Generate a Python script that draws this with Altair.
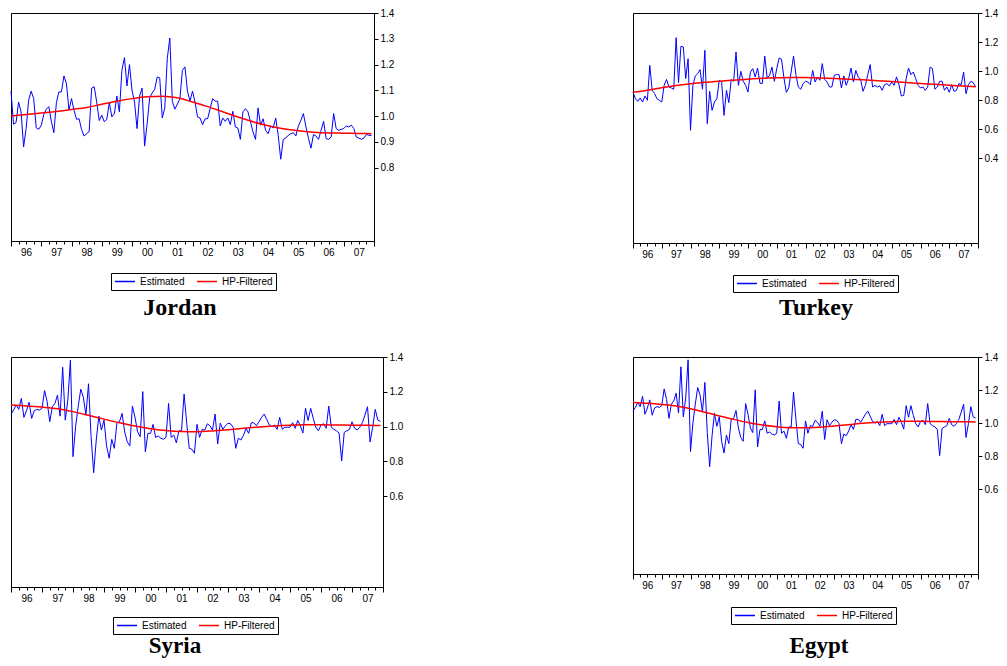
import altair as alt
import pandas as pd

# ---------------- data (monthly, Jan 1996 .. Dec 2007) ----------------
months = list(range(144))
hp_months = [0, 6, 12, 18, 24, 30, 36, 42, 48, 54, 60, 66, 72, 78, 84, 90,
             96, 102, 108, 114, 120, 126, 132, 138, 143]
x_quarters = [1996 + q / 4 for q in range(49)]

jordan_est = [
    1.097, 0.969, 0.975, 1.055, 1.016, 0.881, 0.952, 1.062, 1.097, 1.068,
    0.955, 0.949, 0.965, 1.006, 1.027, 1.037, 0.980, 0.936, 1.052, 1.094,
    1.094, 1.156, 1.126, 1.023, 1.068, 1.023, 0.988, 0.990, 0.948, 0.923,
    0.932, 0.940, 1.109, 1.114, 1.055, 0.983, 1.004, 0.978, 0.988, 1.052,
    0.997, 1.010, 1.078, 1.017, 1.178, 1.227, 1.117, 1.200, 1.101, 1.055,
    0.952, 1.078, 1.109, 0.884, 0.970, 1.071, 1.090, 1.104, 1.152, 1.148,
    0.993, 1.032, 1.224, 1.303, 1.058, 1.027, 1.047, 1.068, 1.178, 1.191,
    1.097, 1.058, 1.097, 1.055, 0.997, 0.993, 0.967, 0.990, 0.990, 1.029,
    1.068, 1.058, 1.058, 0.962, 0.993, 0.980, 0.993, 0.967, 1.019, 0.958,
    0.954, 0.910, 1.017, 1.029, 1.017, 0.978, 0.939, 0.910, 1.032, 0.965,
    0.990, 0.945, 0.932, 0.962, 0.954, 0.993, 0.926, 0.833, 0.910, 0.915,
    0.926, 0.932, 0.936, 0.923, 0.962, 0.984, 1.010, 0.958, 0.915, 0.876,
    0.929, 0.923, 0.910, 0.945, 0.980, 0.913, 0.910, 0.919, 1.010, 0.952,
    0.945, 0.949, 0.952, 0.962, 0.958, 0.965, 0.952, 0.919, 0.915, 0.910,
    0.915, 0.929, 0.926, 0.925]
jordan_hp = [1.001, 1.006, 1.012, 1.018, 1.026, 1.034, 1.046, 1.058, 1.068,
             1.075, 1.077, 1.071, 1.055, 1.037, 1.017, 0.997, 0.978, 0.963,
             0.951, 0.943, 0.938, 0.935, 0.934, 0.933, 0.932]

turkey_est = [
    0.855, 0.809, 0.791, 0.814, 0.786, 0.828, 0.798, 1.039, 0.867, 0.844,
    0.809, 0.798, 0.786, 0.901, 0.942, 0.890, 0.883, 0.874, 1.230, 0.919,
    1.170, 1.166, 0.948, 1.085, 0.591, 0.901, 0.966, 0.982, 1.009, 0.874,
    1.143, 0.637, 0.860, 0.729, 0.786, 0.809, 0.935, 0.924, 0.694, 0.867,
    0.782, 0.942, 0.929, 1.131, 0.901, 0.998, 0.929, 0.901, 0.855, 0.993,
    1.016, 0.959, 1.020, 0.915, 0.915, 1.103, 0.952, 0.970, 1.027, 0.929,
    1.016, 1.090, 1.081, 0.952, 0.853, 0.883, 0.993, 1.103, 0.975, 0.890,
    0.874, 0.913, 0.929, 0.924, 0.906, 1.004, 0.924, 0.959, 0.936, 1.051,
    0.942, 0.924, 0.890, 0.890, 0.970, 0.975, 0.975, 0.883, 0.966, 0.901,
    0.947, 1.020, 0.924, 1.004, 0.959, 0.942, 0.860, 0.901, 0.975, 1.044,
    0.890, 0.901, 0.890, 0.897, 0.867, 0.906, 0.913, 0.897, 0.924, 0.901,
    0.959, 0.906, 0.828, 0.832, 0.947, 1.020, 0.975, 0.993, 0.947, 0.901,
    0.883, 0.890, 0.867, 0.890, 1.027, 1.016, 0.874, 0.890, 0.929, 0.929,
    0.867, 0.890, 0.853, 0.906, 0.860, 0.867, 0.913, 0.906, 0.993, 0.844,
    0.906, 0.929, 0.920, 0.890]
turkey_hp = [0.853, 0.868, 0.885, 0.900, 0.912, 0.922, 0.930, 0.937, 0.944,
             0.950, 0.954, 0.956, 0.955, 0.952, 0.948, 0.944, 0.939, 0.933,
             0.927, 0.920, 0.914, 0.908, 0.902, 0.896, 0.891]

syria_est = [
    1.072, 1.095, 1.124, 1.099, 1.162, 1.053, 1.091, 1.140, 1.047, 1.091,
    1.099, 1.095, 1.105, 1.207, 1.143, 1.028, 1.114, 1.133, 1.181, 1.060,
    1.341, 1.037, 1.152, 1.383, 0.827, 0.999, 1.114, 1.215, 1.169, 1.066,
    1.246, 0.942, 0.735, 0.923, 1.060, 0.980, 1.037, 0.889, 0.818, 0.927,
    0.875, 1.022, 1.028, 1.076, 0.970, 0.912, 0.889, 1.118, 1.053, 0.970,
    0.942, 1.201, 0.855, 0.961, 0.961, 1.013, 0.938, 0.946, 0.933, 0.927,
    0.938, 1.133, 0.938, 0.951, 0.907, 0.976, 0.976, 1.187, 1.022, 0.875,
    0.870, 0.847, 1.013, 0.938, 0.984, 0.980, 1.016, 1.005, 0.980, 1.072,
    0.900, 1.020, 0.984, 1.005, 1.020, 1.016, 0.996, 0.875, 0.933, 0.923,
    0.951, 0.990, 0.961, 1.022, 1.022, 1.005, 1.028, 1.053, 1.072, 1.041,
    1.009, 0.999, 1.009, 0.984, 1.053, 0.984, 0.996, 0.996, 0.996, 1.022,
    0.990, 1.035, 1.005, 0.963, 1.105, 1.035, 1.105, 1.047, 0.996, 0.976,
    1.009, 1.016, 0.990, 1.118, 0.996, 0.984, 0.976, 0.963, 0.802, 0.967,
    0.976, 0.984, 1.028, 0.990, 0.980, 0.996, 1.022, 1.066, 1.114, 0.912,
    0.996, 1.099, 1.037, 1.030]
syria_hp = [1.124, 1.119, 1.112, 1.103, 1.086, 1.065, 1.043, 1.022, 1.003,
            0.988, 0.978, 0.972, 0.971, 0.975, 0.982, 0.990, 0.998, 1.004,
            1.008, 1.010, 1.010, 1.009, 1.008, 1.007, 1.006]

# The Egypt panel in the reference shows the same series as the Syria panel
egypt_est = list(syria_est)
egypt_hp = list(syria_hp)

jordan_ticks = [0.8, 0.9, 1.0, 1.1, 1.2, 1.3, 1.4]
turkey_ticks = [0.4, 0.6, 0.8, 1.0, 1.2, 1.4]
syria_ticks = [0.6, 0.8, 1.0, 1.2, 1.4]
egypt_ticks = [0.6, 0.8, 1.0, 1.2, 1.4]

SANS = "Liberation Sans"
SERIF = "Liberation Serif"


def make_panel(name, est, hp, w, h, ylow, yticks, lx, ly, tdx, toff, tsize):
    df_e = pd.DataFrame({"t": [1996 + m / 12 for m in months], "v": est,
                         "series": ["Estimated"] * len(est)})
    df_h = pd.DataFrame({"t": [1996 + m / 12 for m in hp_months], "v": hp,
                         "series": ["HP-Filtered"] * len(hp)})
    x = alt.X("t:Q", title=None,
              scale=alt.Scale(domain=[1996, 2008], nice=False, zero=False),
              axis=alt.Axis(values=x_quarters, grid=False, labelOverlap=False,
                            labelFlush=False, labelPadding=3,
                            labelExpr="datum.value % 1 == 0.5 ? substring(toString(floor(datum.value)), 2, 4) : ''",
                            tickSize={"condition": {"test": "datum.value % 1 == 0", "value": 5}, "value": 3}))
    y = alt.Y("v:Q", title=None,
              scale=alt.Scale(domain=[ylow, 1.4], nice=False, zero=False),
              axis=alt.Axis(orient="right", values=yticks, format=".1f", grid=False,
                            tickSize=4, labelPadding=2, labelFlush=False,
                            labelOverlap=False))
    color = alt.Color("series:N",
                      scale=alt.Scale(domain=["Estimated", "HP-Filtered"],
                                      range=["#0000FF", "#FF0000"]),
                      legend=alt.Legend(title=None, orient="none", legendX=lx, legendY=ly,
                                        direction="horizontal", symbolType="stroke",
                                        symbolSize=400, symbolStrokeWidth=1.5,
                                        labelFont=SANS, labelFontSize=10, labelColor="black",
                                        labelOffset=4, columnPadding=11, padding=3,
                                        clipHeight=11, strokeColor="black"))
    est_line = alt.Chart(df_e).mark_line(strokeWidth=1).encode(x=x, y=y, color=color)
    hp_line = alt.Chart(df_h).mark_line(strokeWidth=1.5, interpolate="monotone").encode(
        x=x, y=y, color=color)
    return alt.layer(est_line, hp_line).properties(
        width=w, height=h,
        title=alt.TitleParams(name, orient="bottom", anchor="middle", frame="group",
                              dx=tdx, offset=toff, font=SERIF, fontSize=tsize,
                              fontWeight="bold", color="black"))


p1 = make_panel("Jordan", jordan_est, jordan_hp, 363, 228, 0.516, jordan_ticks, 100, 260, -12.5, 5, 24)
p2 = make_panel("Turkey", turkey_est, turkey_hp, 345, 230, -0.186, turkey_ticks, 100, 262, 10.5, 3, 24)
p3 = make_panel("Syria", syria_est, syria_hp, 372, 230, 0.078, syria_ticks, 102, 260, -22, 0, 23)
p4 = make_panel("Egypt", egypt_est, egypt_hp, 345, 217, 0.085, egypt_ticks, 98, 250, 13.5, 10, 23)

chart = alt.concat(p1, p2, p3, p4, columns=2, spacing={"row": 114, "column": 250},
                   bounds="flush", align="all").resolve_scale(
    color="independent").resolve_legend(color="independent").properties(
    autosize=alt.AutoSizeParams(type="none"),
    padding={"left": 3, "top": 5, "right": 988, "bottom": 645}
).configure_view(stroke="black", strokeWidth=1).configure_axis(
    labelFont=SANS, labelFontSize=10, labelColor="black", tickColor="black",
    domainColor="black", tickWidth=1, domainWidth=1)

chart.save("out.html", embed_options={"renderer": "svg", "actions": False})
